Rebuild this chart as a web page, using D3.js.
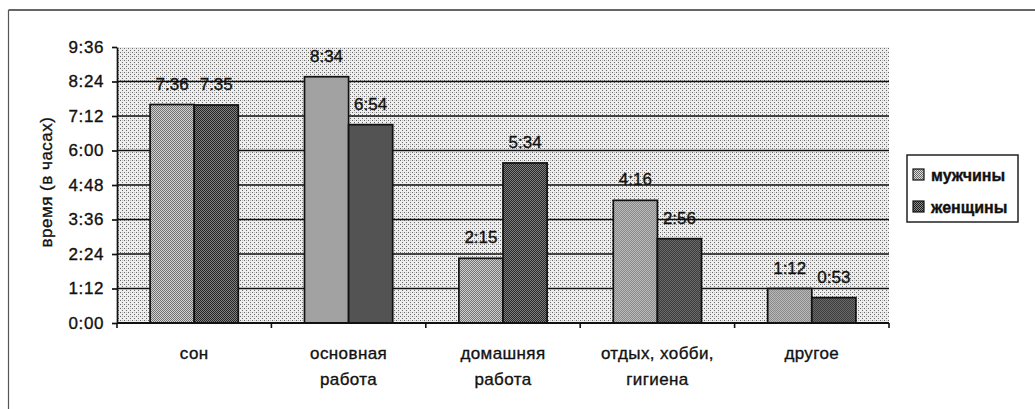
<!DOCTYPE html>
<html>
<head>
<meta charset="utf-8">
<script src="https://cdn.jsdelivr.net/npm/d3@7"></script>
<style>
  body { margin: 0; background: #fff; }
  text { font-family: "Liberation Sans", Arial, sans-serif; fill: #111; stroke: #111; stroke-width: 0.35px; }
</style>
</head>
<body>
<svg id="chart" width="1035" height="409"></svg>
<script>
// data (hours:minutes)
var categories = [["сон"], ["основная", "работа"], ["домашняя", "работа"], ["отдых, хобби,", "гигиена"], ["другое"]];
var series = ["мужчины", "женщины"];
var menTimes = ["7:36", "8:34", "2:15", "4:16", "1:12"];
var womenTimes = ["7:35", "6:54", "5:34", "2:56", "0:53"];
var yTicks = ["0:00", "1:12", "2:24", "3:36", "4:48", "6:00", "7:12", "8:24", "9:36"];

function toMin(s) { var p = s.split(":"); return +p[0] * 60 + +p[1]; }
function fmt(m) { return Math.floor(m / 60) + ":" + d3.format("02")(m % 60); }

var catKeys = categories.map(function(c) { return c.join(" "); });
var data = catKeys.map(function(k, i) {
  return { cat: k, values: [toMin(menTimes[i]), toMin(womenTimes[i])] };
});

var svg = d3.select("#chart");

// patterns that mimic the printed halftone
var defs = svg.append("defs");
var bg = defs.append("pattern").attr("id", "bgPat").attr("patternUnits", "userSpaceOnUse")
  .attr("width", 4).attr("height", 4);
bg.append("rect").attr("width", 4).attr("height", 4).attr("fill", "#eeeeee");
bg.append("rect").attr("x", 0).attr("y", 0).attr("width", 1).attr("height", 1).attr("fill", "#666");
bg.append("rect").attr("x", 2).attr("y", 2).attr("width", 1).attr("height", 1).attr("fill", "#666");
bg.append("rect").attr("x", 2).attr("y", 0).attr("width", 1).attr("height", 1).attr("fill", "#bbb");

var menP = defs.append("pattern").attr("id", "menPat").attr("patternUnits", "userSpaceOnUse")
  .attr("width", 2).attr("height", 2);
menP.append("rect").attr("width", 2).attr("height", 2).attr("fill", "#dddddd");
menP.append("rect").attr("x", 0).attr("y", 0).attr("width", 1).attr("height", 1).attr("fill", "#666");
menP.append("rect").attr("x", 1).attr("y", 1).attr("width", 1).attr("height", 1).attr("fill", "#666");

var womP = defs.append("pattern").attr("id", "womPat").attr("patternUnits", "userSpaceOnUse")
  .attr("width", 2).attr("height", 2);
womP.append("rect").attr("width", 2).attr("height", 2).attr("fill", "#8c8c8c");
womP.append("rect").attr("x", 0).attr("y", 0).attr("width", 1).attr("height", 1).attr("fill", "#1a1a1a");
womP.append("rect").attr("x", 1).attr("y", 1).attr("width", 1).attr("height", 1).attr("fill", "#1a1a1a");

var fills = ["url(#menPat)", "url(#womPat)"];

// outer frame (top and left edges only)
svg.append("line").attr("x1", 8.5).attr("y1", 10).attr("x2", 1035).attr("y2", 10)
  .attr("stroke", "#333").attr("stroke-width", 1.6);
svg.append("line").attr("x1", 8.5).attr("y1", 10).attr("x2", 8.5).attr("y2", 409)
  .attr("stroke", "#555").attr("stroke-width", 1.2);

var plot = { left: 117, right: 889, top: 47, bottom: 323 };

var y = d3.scaleLinear().domain([0, toMin(yTicks[yTicks.length - 1])])
  .range([plot.bottom, plot.top]);
var x0 = d3.scaleBand().domain(catKeys).range([plot.left, plot.right]).padding(0);
var groupW = x0.bandwidth() * 2 / 3.5;
var x1 = d3.scaleBand().domain(series).range([0, groupW]);

var g = svg.append("g");

// plot area
g.append("rect").attr("x", plot.left).attr("y", plot.top)
  .attr("width", plot.right - plot.left).attr("height", plot.bottom - plot.top)
  .attr("fill", "url(#bgPat)");

// gridlines
g.selectAll(".grid").data(yTicks.slice(1, -1)).join("line")
  .attr("class", "grid")
  .attr("x1", plot.left).attr("x2", plot.right)
  .attr("y1", function(d) { return y(toMin(d)); })
  .attr("y2", function(d) { return y(toMin(d)); })
  .attr("stroke", "#111").attr("stroke-width", 1.7);

// bars
var groups = g.selectAll(".grp").data(data).join("g")
  .attr("class", "grp")
  .attr("transform", function(d) { return "translate(" + (x0(d.cat) + (x0.bandwidth() - groupW) / 2) + ",0)"; });

groups.selectAll("rect").data(function(d) { return d.values.map(function(v, i) { return { s: series[i], v: v, i: i }; }); })
  .join("rect")
  .attr("x", function(d) { return x1(d.s); })
  .attr("y", function(d) { return y(d.v); })
  .attr("width", x1.bandwidth())
  .attr("height", function(d) { return plot.bottom - y(d.v); })
  .attr("fill", function(d) { return fills[d.i]; })
  .attr("stroke", "#111").attr("stroke-width", 1.7);

groups.selectAll(".lbl").data(function(d) { return d.values.map(function(v, i) { return { s: series[i], v: v }; }); })
  .join("text")
  .attr("class", "lbl")
  .attr("x", function(d) { return x1(d.s) + x1.bandwidth() / 2; })
  .attr("y", function(d) { return y(d.v) - 15; })
  .attr("text-anchor", "middle")
  .attr("font-size", 17)
  .text(function(d) { return fmt(d.v); });

// y axis
var yAxis = g.append("g").attr("transform", "translate(" + plot.left + ",0)")
  .call(d3.axisLeft(y).tickValues(yTicks.map(toMin)).tickFormat(fmt).tickSize(5).tickSizeOuter(0));
yAxis.select(".domain").attr("stroke", "#111").attr("stroke-width", 1.7);
yAxis.selectAll(".tick line").attr("stroke", "#111").attr("stroke-width", 1.7);
yAxis.selectAll(".tick text").attr("font-size", 17).attr("x", -13).attr("letter-spacing", 0.6)
  .attr("font-family", "'Liberation Sans', Arial, sans-serif").attr("fill", "#111");

// x axis line and category ticks at band edges
g.append("line").attr("x1", plot.left).attr("x2", plot.right)
  .attr("y1", plot.bottom).attr("y2", plot.bottom)
  .attr("stroke", "#111").attr("stroke-width", 1.8);
var edges = catKeys.map(function(k) { return x0(k); }).concat([plot.right]);
g.selectAll(".xtick").data(edges).join("line")
  .attr("class", "xtick")
  .attr("x1", function(d) { return d; }).attr("x2", function(d) { return d; })
  .attr("y1", plot.bottom).attr("y2", plot.bottom + 5)
  .attr("stroke", "#111").attr("stroke-width", 1.6);

// category labels
var catLbl = g.selectAll(".cat").data(categories).join("text")
  .attr("class", "cat")
  .attr("text-anchor", "middle")
  .attr("font-size", 17)
  .attr("letter-spacing", 0.4)
  .attr("x", function(d, i) { return x0(catKeys[i]) + x0.bandwidth() / 2; })
  .attr("y", 359);
catLbl.selectAll("tspan").data(function(d) { return d; }).join("tspan")
  .attr("x", function() { return this.parentNode.getAttribute("x"); })
  .attr("dy", function(d, i) { return i === 0 ? 0 : 26; })
  .text(function(d) { return d; });

// y title
svg.append("text")
  .attr("transform", "translate(52,182) rotate(-90)")
  .attr("text-anchor", "middle")
  .attr("font-size", 17)
  .attr("letter-spacing", 0.5)
  .text("время (в часах)");

// legend
var lg = svg.append("g");
lg.append("rect").attr("x", 907).attr("y", 155).attr("width", 111).attr("height", 67)
  .attr("fill", "#fff").attr("stroke", "#222").attr("stroke-width", 1.5);
var items = lg.selectAll(".li").data(series).join("g")
  .attr("class", "li")
  .attr("transform", function(d, i) { return "translate(913," + (175 + i * 32) + ")"; });
items.append("rect").attr("x", 0).attr("y", -6).attr("width", 11).attr("height", 11)
  .attr("fill", function(d, i) { return fills[i]; })
  .attr("stroke", "#111").attr("stroke-width", 1.2);
items.append("text").attr("x", 18).attr("y", 6)
  .attr("font-size", 16).attr("font-weight", "bold")
  .text(function(d) { return d; });
</script>
</body>
</html>
